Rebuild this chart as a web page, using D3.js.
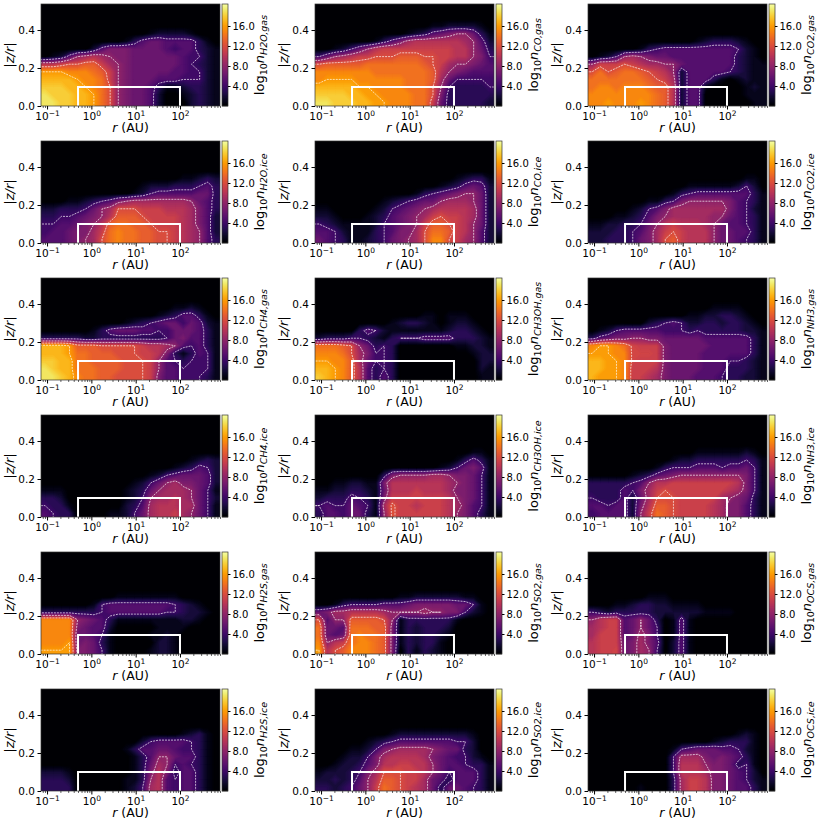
<!DOCTYPE html>
<html lang="en">

<head>
  <meta charset="UTF-8">
  <title>Disk abundances</title>
  <style>
    html, body { margin: 0; padding: 0; background: #fff; }
    svg { display: block; }
    text { font-family: "DejaVu Sans", sans-serif; fill: #000; }
  </style>
</head>

<body>
  <svg id="svg" width="822" height="825"></svg>

  <script src="https://d3js.org/d3.v7.min.js"></script>
  <script>
    // log10 n. 22 columns in log r, one row per 0.04 in |z/r|,
    // first row listed is the highest one that has signal, last row is z/r = 0.02
    const h2oGas = [
      [0,0,0,0,0,0,0,0,0,0,0,0,0,1,2,2,2,2,1,0,0,0],
      [0,0,0,0,0,0,0,0,0,0,1,3,5,6,6,5,5,5,5,3,1,0],
      [0,0,0,0,0,0,2,5,7,7,7,6,6,6,6,5,4,5,5,3,2,1],
      [0,1,2,5,8,9,10,9,8,7,7,6,6,6,6,6,6,5,4,4,2,1],
      [10,10,11,12,12,13,13,11,9,8,7,6,6,6,6,6,6,5,4,3,2,1],
      [16,16,16,15,15,15,14,13,11,8,7,6,6,6,6,6,5,5,4,4,2,1],
      [17,17,17,17,16,15,15,14,11,8,7,6,6,6,5,5,5,4,4,4,2,1],
      [18,18,18,17,17,16,15,14,12,8,7,6,6,5,3,1,1,2,3,3,2,1],
      [19,18,18,18,17,17,16,14,12,8,7,6,6,5,2,0,0,1,2,3,2,1],
      [19,19,18,18,17,17,16,14,12,8,7,6,6,5,2,0,0,0,2,3,2,1]
    ]
    const coGas = [
      [0,0,0,0,0,0,0,0,0,0,0,0,0,0,1,1,2,2,2,2,1,0],
      [0,0,0,0,0,0,0,0,0,0,0,1,2,3,5,6,7,8,8,6,3,1],
      [0,0,0,0,0,0,0,1,3,5,7,9,10,10,10,10,10,10,9,8,5,2],
      [0,0,1,2,4,6,8,10,11,11,11,11,11,11,11,11,11,10,10,8,6,3],
      [4,6,8,9,10,11,11,12,12,12,13,13,13,12,12,11,11,10,10,8,7,4],
      [12,13,13,13,13,13,14,14,14,14,14,14,14,13,12,11,9,8,8,7,6,5],
      [15,15,15,15,15,15,15,14,14,14,14,14,14,14,13,10,8,7,6,5,5,5],
      [15,16,16,16,16,15,15,15,15,15,15,14,14,14,13,9,6,4,4,4,4,4],
      [17,17,17,17,17,16,16,15,15,15,15,14,14,14,12,8,4,3,3,3,3,4],
      [18,18,18,18,17,17,16,16,15,15,15,15,14,14,12,7,3,3,3,3,3,3],
      [19,19,18,18,18,17,17,16,16,15,15,15,14,14,11,6,3,3,3,3,3,2]
    ]
    const co2Gas = [
      [0,0,0,0,0,0,0,0,0,0,0,0,0,1,2,3,3,3,2,1,0,0],
      [0,0,0,0,0,0,1,3,4,5,5,5,5,5,5,5,5,5,4,2,1,0],
      [0,1,2,4,8,9,8,7,6,6,5,5,5,5,5,5,5,5,3,2,1,0],
      [8,11,11,11,12,11,10,9,9,8,8,6,5,5,5,5,5,5,3,2,1,1],
      [12,14,12,13,14,14,13,12,11,10,8,2,5,5,5,5,5,4,3,2,1,1],
      [14,14,14,14,14,14,14,13,12,11,9,2,5,5,5,3,1,0,1,2,1,1],
      [14,15,15,14,15,15,15,14,13,13,10,2,5,5,1,0,0,0,0,1,2,1],
      [15,15,15,15,15,15,15,15,14,13,10,2,5,5,0,0,0,0,0,1,1,1],
      [15,15,16,15,15,15,16,15,14,13,10,2,5,5,0,0,0,0,0,0,1,1]
    ]
    const h2oIce = [
      [0,0,0,0,0,0,0,0,0,0,0,0,0,0,0,0,0,1,1,2,3,2],
      [0,0,0,0,0,0,0,0,0,0,0,0,1,2,2,2,3,3,3,4,5,3],
      [0,0,0,0,0,0,0,0,0,0,0,1,2,4,5,5,5,5,5,6,6,3],
      [0,0,0,1,1,2,3,4,5,7,8,9,9,9,9,9,9,9,8,6,5,3],
      [2,2,3,3,3,4,6,8,9,12,12,12,11,11,11,10,10,10,9,7,5,3],
      [3,3,4,4,5,6,7,8,10,13,13,13,12,11,11,11,11,10,9,7,5,2],
      [4,4,5,5,6,7,8,10,13,14,14,13,13,12,11,11,11,10,9,7,5,2],
      [4,5,5,6,7,7,9,11,14,15,14,14,13,13,12,12,11,10,9,8,5,2],
      [5,5,5,6,7,8,9,12,14,15,14,14,13,13,12,12,11,10,9,8,5,3]
    ]
    const coIce = [
      [0,0,0,0,0,0,0,0,0,0,0,0,0,0,0,0,0,1,2,3,3,1],
      [0,0,0,0,0,0,0,0,0,0,0,0,0,0,0,1,2,3,5,6,5,2],
      [0,0,0,0,0,0,0,0,0,0,0,0,1,3,4,5,6,7,8,8,6,2],
      [0,0,0,0,0,0,0,0,1,2,3,4,5,6,6,8,9,9,9,8,6,2],
      [1,1,0,0,0,0,0,1,2,4,5,6,7,8,9,10,10,10,10,9,6,2],
      [2,2,1,0,0,0,1,2,3,5,6,7,8,9,11,12,11,11,10,9,6,2],
      [4,3,2,1,1,1,1,2,4,5,6,7,8,11,13,13,12,11,10,8,6,2],
      [5,5,4,2,1,1,1,3,4,5,7,7,9,12,14,14,13,11,10,8,5,2],
      [6,5,4,3,1,1,2,3,4,6,7,8,9,12,15,15,12,11,9,8,5,2]
    ]
    const co2Ice = [
      [0,0,0,0,0,0,0,0,0,0,0,0,0,0,0,0,0,0,0,1,1,0],
      [0,0,0,0,0,0,0,0,0,0,0,0,1,1,1,1,1,1,2,4,2,0],
      [0,0,0,0,0,0,0,0,0,0,1,3,4,5,5,5,5,5,5,5,3,1],
      [0,0,0,0,0,0,0,1,1,3,4,7,8,8,8,8,8,7,5,4,3,1],
      [0,0,0,0,0,1,2,4,5,7,9,9,9,9,9,9,9,7,5,4,2,1],
      [0,0,0,1,1,2,3,5,7,8,9,9,9,9,9,8,8,6,5,4,3,1],
      [1,1,2,2,3,3,4,6,8,10,11,10,10,10,9,8,6,5,5,4,3,1],
      [2,2,2,3,3,4,5,7,9,11,12,11,10,10,10,8,6,6,5,5,3,1],
      [2,2,3,3,3,4,6,7,9,12,13,11,10,10,10,8,6,6,5,4,3,1]
    ]
    const ch4Gas = [
      [0,0,0,0,0,0,0,0,0,0,0,0,0,0,0,0,1,1,2,1,0,0],
      [0,0,0,0,0,0,0,0,0,0,0,0,0,0,1,2,3,5,5,3,1,0],
      [0,0,0,0,0,0,0,0,0,0,1,2,3,4,5,6,6,4,6,5,2,1],
      [0,0,0,0,0,0,1,3,5,6,6,6,5,5,4,4,6,6,6,5,3,1],
      [3,3,3,3,3,2,2,3,3,3,3,3,3,3,3,4,6,7,5,5,3,1],
      [17,17,17,16,13,13,13,12,12,12,12,12,11,10,10,9,8,5,4,5,3,1],
      [17,17,17,16,14,14,13,13,13,12,12,12,11,11,10,7,3,1,3,5,4,1],
      [18,18,17,17,14,14,13,13,13,13,12,12,12,11,8,5,4,3,4,4,4,1],
      [19,18,17,17,14,14,14,13,13,13,12,12,12,11,8,5,5,4,4,4,4,1],
      [19,19,18,17,15,14,14,13,13,12,12,12,12,11,7,5,5,4,4,4,3,1]
    ]
    const ch3ohGas = [
      [0,0,0,0,0,0,0,0,0,0,0,0,0,1,1,0,1,1,1,0,0,0],
      [0,0,0,0,0,0,0,0,0,1,2,3,3,2,1,0,1,2,2,1,0,0],
      [0,0,0,0,0,3,5,4,2,1,1,1,1,1,1,1,2,3,3,2,1,0],
      [2,3,3,3,4,4,3,2,1,3,4,4,4,5,5,5,5,3,3,3,2,1],
      [14,14,14,13,12,8,6,3,4,3,0,0,0,0,0,0,0,1,1,2,2,1],
      [15,15,15,14,12,9,7,4,4,3,0,0,0,0,0,0,0,0,0,1,2,2],
      [16,16,15,15,13,9,6,4,4,3,0,0,0,0,0,0,0,0,0,0,2,2],
      [17,17,16,15,13,10,5,3,4,3,0,0,0,0,0,0,0,0,0,0,2,1],
      [18,17,16,15,13,10,5,3,5,3,0,0,0,0,0,0,0,0,0,0,1,1]
    ]
    const nh3Gas = [
      [0,0,0,0,0,0,0,0,0,0,0,0,0,0,0,1,1,1,1,0,0,0],
      [0,0,0,0,0,0,0,0,0,0,0,0,1,1,2,2,3,3,2,1,0,0],
      [0,0,0,0,0,0,0,2,3,4,5,4,2,2,3,3,2,3,3,2,1,0],
      [0,1,2,4,5,5,5,5,5,4,4,4,3,4,3,3,3,3,3,2,2,1],
      [3,5,6,7,7,8,8,7,7,6,6,6,6,6,5,5,5,5,5,5,3,1],
      [15,16,16,15,14,11.5,11,11,11,7,6,6,6,6,6,5,5,5,5,5,3,1],
      [16,16,16,15,15,11.5,11.5,11.5,11,7,6,6,6,6,5,5,5,5,5,5,3,1],
      [17,17,16,16,15,11.5,11,11,11,7,6,6,6,6,5,5,5,4,4,3,2,1],
      [17,17,16,16,15,11,11,11,10,7,6,6,6,6,5,5,5,3,3,3,2,1],
      [17,16,16,16,15,11,11,10,9,7,6,6,6,5,5,5,4,3,3,2,2,1]
    ]
    const ch4Ice = [
      [0,0,0,0,0,0,0,0,0,0,0,0,0,0,0,0,0,0,1,2,3,2],
      [0,0,0,0,0,0,0,0,0,0,0,0,0,0,0,0,1,2,3,5,4,2],
      [0,0,0,0,0,0,0,0,0,0,0,0,0,1,2,4,5,6,6,6,5,2],
      [0,0,0,0,0,0,0,0,0,0,0,1,2,4,6,8,9,7,7,6,5,2],
      [1,1,1,0,0,0,0,0,0,0,1,2,3,6,8,9,9,9,8,6,4,1],
      [3,3,2,0,0,0,0,0,0,0,1,2,4,8,9,9,10,9,8,6,4,2],
      [4,3,3,1,0,0,0,0,0,0,2,3,5,9,10,10,10,9,9,6,4,1],
      [5,4,3,3,0,0,0,0,1,1,2,4,6,9,10,10,11,9,8,6,4,1]
    ]
    const ch3ohIce = [
      [0,0,0,0,0,0,0,0,0,0,0,0,0,0,0,0,0,0,0,1,1,0],
      [0,0,0,0,0,0,0,0,0,0,0,0,0,0,0,0,0,1,3,5,3,1],
      [0,0,0,0,0,0,0,0,0,0,0,0,0,0,0,1,2,4,6,7,5,1],
      [0,0,0,0,0,0,0,0,3,7,8,8,8,8,9,9,8,7,7,6,4,1],
      [0,0,1,1,2,2,1,1,7,10,10,10,10,10,10,10,9,8,7,6,4,1],
      [1,1,2,2,3,3,2,1,6,10,10,10,11,10,10,10,9,7,7,6,4,1],
      [2,3,3,3,5,4,3,1,7,11,11,11,11,11,11,11,10,8,7,6,4,1],
      [4,5,4,4,6,5,4,1,9,12.5,11,11,10,11,11,11,10,9,7,5,4,1],
      [3,5,5,4,6,6,3,1,8,12.5,11,11,11,11,11,11,10,8,7,5,3,1]
    ]
    const nh3Ice = [
      [0,0,0,0,0,0,0,0,0,0,0,0,0,1,1,1,1,1,1,2,1,0],
      [0,0,0,0,0,0,0,0,0,0,1,2,2,3,3,3,3,3,3,4,3,1],
      [0,0,0,0,0,0,0,0,1,3,4,4,4,5,5,5,4,5,5,6,4,1],
      [0,0,0,0,0,1,2,3,5,6,7,8,8,8,8,8,8,8,8,7,4,1],
      [3,3,3,3,3,4,5,8,10,10,11,11,11,11,11,11,11,11,10,7,4,1],
      [3,3,3,3,5,4,7,9,11,12,11,11,11,11,11,11,11,10,9,7,4,1],
      [4,3,3,3,5,2,6,9,12,12,12,11,11,11,11,11,9,8,7,6,3,1],
      [5,5,4,5,5,2,7,10,13,13,12,11,11,11,11,10,9,7,7,5,3,1],
      [4,5,5,5,5,2,8,11,14,13,12,11,11,11,11,10,9,7,7,5,3,1]
    ]
    const h2sGas = [
      [0,0,0,0,0,0,0,0,0,1,1,1,1,1,1,1,1,0,0,0,0,0],
      [0,0,0,0,0,0,1,4,5,5,5,5,5,5,5,5,4,3,2,1,0,0],
      [3,3,3,3,3,3,3,4,5,5,5,5,5,5,5,4,4,3,2,2,1,0],
      [15,15,15,15,8,7,6,5,3,1,1,1,1,1,1,1,1,2,2,1,0,0],
      [15,15,15,15,7,6,5,5,2,0,0,0,0,0,1,1,1,1,0,0,0,0],
      [15,15,15,15,6,6,5,4,1,0,0,0,0,1,1,2,1,0,0,0,0,0],
      [15,15,15,16,6,7,6,3,1,0,0,0,0,0,2,2,1,0,0,0,0,0],
      [16,16,16,16,7,7,6,4,1,0,0,0,0,1,2,2,1,0,0,0,0,0]
    ]
    const so2Gas = [
      [0,0,0,0,0,0,0,0,0,0,1,1,2,2,2,2,2,2,1,1,0,0],
      [0,0,1,3,4,4,4,4,5,5,5,6,7,7,7,7,7,6,6,4,1,0],
      [6,7,9,9,10,10,10,10,9,8,8,8,8,9,8,8,7,7,4,2,1,0],
      [12,5,8,8,13,13,13,13,12,8,1,3,3,3,3,3,3,1,0,0,0,0],
      [14,6,6,5,14,14,14,13,13,7,1,3,2,3,3,3,2,0,0,0,0,0],
      [14,6,5,6,14,15,14,14,13,7,1,3,2,3,3,2,1,0,0,0,0,0],
      [15,8,10,11,14,15,15,14,13,7,1,3,2,3,3,1,0,0,0,0,0,0],
      [16,10,12,13,15,15,15,14,13,7,0,3,1,3,2,1,0,0,0,0,0,0]
    ]
    const ocsGas = [
      [0,0,0,0,0,0,0,1,1,1,0,0,0,0,0,0,0,0,0,0,0,0],
      [0,0,0,1,1,2,3,3,2,2,1,1,1,1,0,0,0,0,0,0,0,0],
      [4,3,2,3,3,3,3,3,2,2,2,2,2,2,1,1,1,1,0,0,0,0],
      [8,10,11,11,5,6,8,6,3,0,1,5,1,0,0,0,0,0,0,0,0,0],
      [9,10,11,11,5,6,8,6,4,0,1,5,1,0,0,0,0,0,0,0,0,0],
      [9,11,11,11,5,6,9,7,4,0,1,5,1,0,0,0,0,0,0,0,0,0],
      [10,11,11,11,6,7,9,7,5,0,2,5,1,0,0,0,0,0,0,0,0,0],
      [10,11,11,11.5,6,7,9,8,4,0,2,5,1,0,0,0,0,0,0,0,0,0]
    ]
    const h2sIce = [
      [0,0,0,0,0,0,0,0,0,0,0,0,0,0,0,0,0,1,2,3,1,0],
      [0,0,0,0,0,0,0,0,0,0,0,0,2,4,5,5,5,5,4,3,1,0],
      [0,0,0,0,0,0,0,0,0,0,1,3,5,5,6,6,5,4,4,3,1,0],
      [0,0,0,0,0,0,0,0,0,0,0,1,3,5,8,8,6,5,5,3,1,0],
      [0,0,0,0,0,0,0,0,0,0,0,1,3,6,9,8,4,5,4,3,1,0],
      [2,2,2,1,0,0,0,0,0,0,0,1,3,7,10,7,3,5,5,3,1,0],
      [3,3,3,2,0,0,0,0,0,0,1,1,3,8,10,5,4,5,5,3,1,0],
      [3,3,3,3,0,0,0,0,0,0,1,2,4,9,10,5,4,5,5,3,1,0]
    ]
    const so2Ice = [
      [0,0,0,0,0,0,0,0,0,1,2,2,2,2,2,2,2,2,2,1,0,0],
      [0,0,0,0,0,0,1,2,3,4,5,5,5,5,5,5,5,4,4,2,0,0],
      [0,0,0,0,1,1,2,4,7,8,9,9,9,9,8,7,6,6,3,2,0,0],
      [0,0,0,1,2,2,4,7,9,10,10,10,10,9,7,6,5,4,4,2,1,0],
      [0,0,1,2,2,3,5,7,10,10,11,11,10,10,8,6,5,5,4,3,3,1],
      [1,2,2,2,3,4,7,9,12,12,12,11,11,10,8,6,4,5,5,5,3,1],
      [2,2,3,2,3,5,8,10,13,13,12,11,11,9,6,5,3,5,5,5,3,1],
      [3,3,2,3,4,6,8,11,14,13,12,11,10,9,6,3,6,6,5,4,3,1]
    ]
    const ocsIce = [
      [0,0,0,0,0,0,0,0,0,0,0,0,0,0,0,0,0,0,1,2,1,0],
      [0,0,0,0,0,0,0,0,0,0,0,0,0,0,0,1,2,3,3,3,1,0],
      [0,0,0,0,0,0,0,0,0,0,1,4,5,6,6,6,5,5,4,2,1,0],
      [0,0,0,0,0,0,0,0,0,0,4,9,9,9,7,6,7,6,5,3,1,0],
      [0,0,0,0,0,0,0,0,0,0,4,10,10,10,8,7,7,6,3,4,1,0],
      [0,0,0,0,0,0,0,0,0,0,4,10,10,10,9,7,7,6,5,4,2,0],
      [0,0,0,0,0,0,0,0,0,0,3,9,11,11,10,7,7,6,5,4,2,1],
      [0,0,0,0,0,0,1,0,0,0,3,9,11,11,10,7,7,6,5,5,3,1]
    ]

    const speciesNames = ['H2O', 'CO', 'CO2', 'H2O', 'CO', 'CO2', 'CH4', 'CH3OH', 'NH3', 'CH4', 'CH3OH', 'NH3', 'H2S', 'SO2', 'OCS', 'H2S', 'SO2', 'OCS']
    const phases = ['gas', 'gas', 'gas', 'ice', 'ice', 'ice', 'gas', 'gas', 'gas', 'ice', 'ice', 'ice', 'gas', 'gas', 'gas', 'ice', 'ice', 'ice']
    const grids = [h2oGas, coGas, co2Gas, h2oIce, coIce, co2Ice, ch4Gas, ch3ohGas, nh3Gas, ch4Ice, ch3ohIce, nh3Ice, h2sGas, so2Gas, ocsGas, h2sIce, so2Ice, ocsIce]

    const xTicks = [0.1, 1, 10, 100]
    const xTickExponents = ['\u22121', '0', '1', '2']
    const yTicks = [0, 0.2, 0.4]
    const colorTicks = [4, 8, 12, 16]
    const contourLevels = [4, 8, 12, 16]
    const box = { rMin: 0.5, rMax: 100, zMax: 0.1 }

    const rDomain = [0.073, 800]
    const zDomain = [0, 0.537]
    const colorDomain = [0, 20.4]
    const nCols = 22
    const nRows = 14    // rows cover 0 to 0.56 in z/r
    const zStep = 0.04

    const plotW = 179
    const plotH = 102
    const colLeft = [41, 315, 588]
    const rowTop = [4, 141, 278, 415, 552, 689]

    const xScale = d3.scaleLog().domain(rDomain).range([0, plotW])
    const yScale = d3.scaleLinear().domain(zDomain).range([plotH, 0])
    const cbScale = d3.scaleLinear().domain(colorDomain).range([plotH, 0])
    const color = d3.scaleSequential(d3.interpolateInferno).domain(colorDomain)

    const logMin = Math.log10(rDomain[0])
    const logMax = Math.log10(rDomain[1])

    // grid coords -> pixels. One padding column each side and one row under the
    // midplane so contours close outside the clipped plot
    const gridProjection = d3.geoTransform({
      point(gx, gy) {
        const logR = logMin + (gx - 1) / nCols * (logMax - logMin)
        const z = (nRows - gy) * zStep
        this.stream.point(xScale(Math.pow(10, logR)), yScale(z))
      }
    })
    const gridPath = d3.geoPath(gridProjection)

    const minorTicks = xScale.ticks().filter(d => !xTicks.includes(d) && Math.abs(Math.log10(d) % 1) > 1e-6)

    const fillLevels = d3.range(0.25, 20.4, 0.25)

    function padGrid(rows) {
      const empty = new Array(nCols).fill(0)
      const top = d3.range(nRows - rows.length).map(() => empty)
      const full = top.concat(rows, [rows[rows.length - 1]])
      const values = []
      full.forEach(row => {
        values.push(row[0], ...row, row[nCols - 1])
      })
      return values
    }

    const svg = d3.select('#svg')
    const defs = svg.append('defs')
    defs.append('clipPath').attr('id', 'plotClip')
      .append('rect').attr('width', plotW).attr('height', plotH)

    function drawLabel(g, species, phase) {
      const label = g.append('text')
        .attr('transform', `translate(${plotW + 44},${plotH / 2}) rotate(-90)`)
        .attr('text-anchor', 'middle')
        .style('font-size', '13px')
      label.append('tspan').text('log')
      label.append('tspan').attr('dy', 3).style('font-size', '9.5px').text('10')
      label.append('tspan').attr('dy', -3).style('font-style', 'italic').text('n')
      label.append('tspan').attr('dy', 3).style('font-size', '9.5px').style('font-style', 'italic').text(`${species},${phase}`)
    }

    grids.forEach((rows, i) => {
      const g = svg.append('g')
        .attr('transform', `translate(${colLeft[i % 3]},${rowTop[Math.floor(i / 3)]})`)

      const values = padGrid(rows)
      const contours = d3.contours().size([nCols + 2, nRows + 1])

      const plot = g.append('g').attr('clip-path', 'url(#plotClip)')
      plot.append('rect').attr('width', plotW).attr('height', plotH).attr('fill', color(0))

      plot.selectAll('path.band')
        .data(contours.thresholds(fillLevels)(values))
        .enter()
        .append('path')
        .attr('class', 'band')
        .attr('d', gridPath)
        .attr('fill', d => color(d.value))
        .attr('stroke', d => color(d.value))
        .attr('stroke-width', 0.3)

      plot.selectAll('path.level')
        .data(contours.thresholds(contourLevels)(values))
        .enter()
        .append('path')
        .attr('class', 'level')
        .attr('d', gridPath)
        .attr('fill', 'none')
        .attr('stroke', '#fff')
        .attr('stroke-opacity', 0.85)
        .attr('stroke-width', 0.8)
        .attr('stroke-dasharray', '2,1')

      // the box around the planet forming zone, open along the midplane
      plot.append('path')
        .attr('d', d3.line()([
          [xScale(box.rMin), yScale(0)],
          [xScale(box.rMin), yScale(box.zMax)],
          [xScale(box.rMax), yScale(box.zMax)],
          [xScale(box.rMax), yScale(0)]
        ]))
        .attr('fill', 'none')
        .attr('stroke', '#fff')
        .attr('stroke-width', 2)

      // frame
      g.append('rect')
        .attr('width', plotW).attr('height', plotH)
        .attr('fill', 'none').attr('stroke', '#333').attr('stroke-width', 0.7)

      // x axis, major and minor
      const xAxis = g.append('g')
        .attr('transform', `translate(0,${plotH})`)
        .call(d3.axisBottom(xScale).tickValues(xTicks).tickSize(3.5).tickPadding(3))
      xAxis.select('.domain').remove()
      xAxis.selectAll('.tick text')
        .text('')
        .style('font-size', '10.5px')
        .attr('dy', '0.72em')
        .each(function (d, j) {
          d3.select(this).append('tspan').text('10')
          d3.select(this).append('tspan').attr('dy', -4).style('font-size', '7.5px').text(xTickExponents[j])
        })
      const xMinor = g.append('g')
        .attr('transform', `translate(0,${plotH})`)
        .call(d3.axisBottom(xScale).tickValues(minorTicks).tickSize(2).tickFormat(''))
      xMinor.select('.domain').remove()
      xMinor.selectAll('line').attr('stroke-width', 0.6)

      const rLabel = g.append('text')
        .attr('x', plotW / 2).attr('y', plotH + 26)
        .attr('text-anchor', 'middle')
        .style('font-size', '12.5px')
      rLabel.append('tspan').style('font-style', 'italic').text('r')
      rLabel.append('tspan').text(' (AU)')

      // y axis
      const yAxis = g.append('g')
        .call(d3.axisLeft(yScale).tickValues(yTicks).tickSize(3.5).tickPadding(2.5).tickFormat(d3.format('.1f')))
      yAxis.select('.domain').remove()
      yAxis.selectAll('text').style('font-size', '10.5px')

      const zLabel = g.append('text')
        .attr('transform', `translate(-27,${plotH / 2}) rotate(-90)`)
        .attr('text-anchor', 'middle')
        .style('font-size', '13px')
      zLabel.append('tspan').text('|')
      zLabel.append('tspan').style('font-style', 'italic').text('z/r')
      zLabel.append('tspan').text('|')

      // colorbar
      const cb = g.append('g').attr('transform', `translate(${plotW + 2},0)`)
      cb.selectAll('rect')
        .data(d3.range(colorDomain[0], colorDomain[1], 0.2))
        .enter()
        .append('rect')
        .attr('x', 0)
        .attr('y', d => cbScale(d + 0.2))
        .attr('width', 6)
        .attr('height', d => cbScale(d) - cbScale(d + 0.2) + 0.3)
        .attr('fill', d => color(d))
      cb.append('rect')
        .attr('width', 6).attr('height', plotH)
        .attr('fill', 'none').attr('stroke', '#333').attr('stroke-width', 0.7)
      const cbAxis = cb.append('g')
        .attr('transform', 'translate(6,0)')
        .call(d3.axisRight(cbScale).tickValues(colorTicks).tickSize(2.5).tickPadding(2).tickFormat(d3.format('.1f')))
      cbAxis.select('.domain').remove()
      cbAxis.selectAll('text').style('font-size', '10px')

      drawLabel(g, speciesNames[i], phases[i])
    })
  </script>
</body>

</html>
